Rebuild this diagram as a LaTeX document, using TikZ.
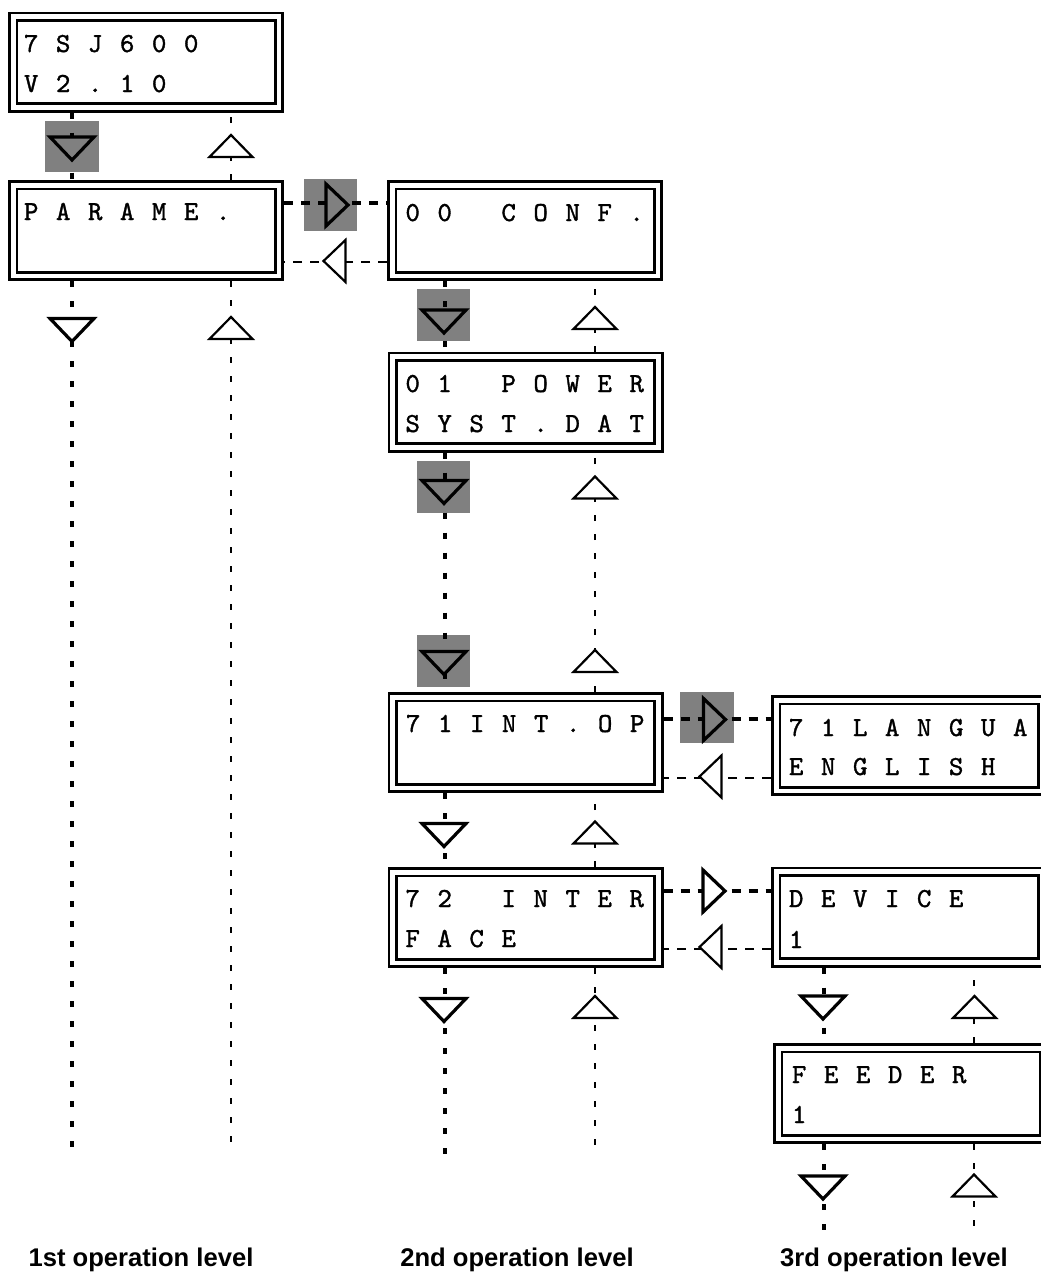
\documentclass[tikz,border=0pt]{standalone}
\usepackage{fontspec}
\newfontfamily\lcdfont[FakeBold=1.3]{lmmono10-regular.otf}
\newfontfamily\labfont{Liberation Sans}
\newcommand\lcdrow[1]{\foreach \c in {#1}{\makebox[16pt]{\c}\hspace{16pt}}}
\tikzset{
  lcdbox/.style={draw, double, double distance=4.8pt, line width=2.7pt,
    minimum width=265.8pt, minimum height=90.8pt, inner sep=0pt, outer sep=5.1pt},
  lcdtxt/.style={anchor=base west, inner sep=0pt, font=\lcdfont\fontsize{27.5}{33}\selectfont},
  lvl/.style={anchor=base, inner sep=0pt, font=\labfont\bfseries\fontsize{25.6}{30}\selectfont},
  dnline/.style={line width=3.2pt, dash pattern=on 6pt off 14pt},
  upline/.style={line width=2.2pt, dash pattern=on 6pt off 13pt},
  rtline/.style={line width=3.2pt, dash pattern=on 9pt off 8pt},
  ltline/.style={line width=2.2pt, dash pattern=on 9pt off 8pt},
  hl/.style={fill=black!50},
  pics/dntri/.style={code={\draw[line width=3.2pt, line join=miter, fill=#1] (-22,-11.5) -- (22,-11.5) -- (0,11.5) -- cycle;}},
  pics/dntri/.default=white,
  pics/uptri/.style={code={\draw[line width=2.2pt, line join=miter, fill=white] (-21.5,11) -- (21.5,11) -- (0,-11) -- cycle;}},
  pics/rttri/.style={code={\draw[line width=3.2pt, line join=miter, fill=#1] (-11,-21) -- (-11,21) -- (11,0) -- cycle;}},
  pics/rttri/.default=white,
  pics/lttri/.style={code={\draw[line width=2.2pt, line join=miter, fill=white] (11,-21) -- (11,21) -- (-11,0) -- cycle;}},
}
\begin{document}
\begin{tikzpicture}[x=1pt,y=-1pt]
\clip (0,0) rectangle (1041,1275);
\fill[white] (0,0) rectangle (1041,1275);
% highlight squares
\fill[hl] (45,121) rectangle (99,172);
\fill[hl] (304,179) rectangle (357,231);
\fill[hl] (417,289) rectangle (470,341);
\fill[hl] (417,461) rectangle (470,513);
\fill[hl] (417,635) rectangle (470,687);
\fill[hl] (680,692) rectangle (734,743);
% boxes
\node[lcdbox] (b1) at (146,62) {};
\node[lcdbox] (b2) at (146,230.5) {};
\node[lcdbox] (b3) at (525,230.5) {};
\node[lcdbox] (b4) at (525.5,402) {};
\node[lcdbox] (b5) at (525.5,742.5) {};
\node[lcdbox] (b6) at (525.5,917.5) {};
\node[lcdbox] (b7) at (909,745.5) {};
\node[lcdbox] (b8) at (909,917) {};
\node[lcdbox] (b9) at (911,1093.5) {};
% texts
\node[lcdtxt] (t1a) at (23,52) {\lcdrow{7,S,J,6,0,0}};
\node[lcdtxt] (t1b) at (23,92) {\lcdrow{V,2,.,1,0}};
\node[lcdtxt] (t2a) at (23,220) {\lcdrow{P,A,R,A,M,E,.}};
\node[lcdtxt] (t3a) at (404.5,221) {\lcdrow{0,0,,C,O,N,F,.}};
\node[lcdtxt] (t4a) at (404.5,392) {\lcdrow{0,1,,P,O,W,E,R}};
\node[lcdtxt] (t4b) at (404.5,432) {\lcdrow{S,Y,S,T,.,D,A,T}};
\node[lcdtxt] (t5a) at (405,732) {\lcdrow{7,1,I,N,T,.,O,P}};
\node[lcdtxt] (t6a) at (404.5,907) {\lcdrow{7,2,,I,N,T,E,R}};
\node[lcdtxt] (t6b) at (404.5,947) {\lcdrow{F,A,C,E}};
\node[lcdtxt] (t7a) at (788,736) {\lcdrow{7,1,L,A,N,G,U,A}};
\node[lcdtxt] (t7b) at (788,775) {\lcdrow{E,N,G,L,I,S,H}};
\node[lcdtxt] (t8a) at (788,907) {\lcdrow{D,E,V,I,C,E}};
\node[lcdtxt] (t8b) at (788,948) {\lcdrow{1}};
\node[lcdtxt] (t9a) at (791,1083) {\lcdrow{F,E,E,D,E,R}};
\node[lcdtxt] (t9b) at (791,1123) {\lcdrow{1}};
% free ends
\coordinate (e1d) at (72,1150);
\coordinate (e1u) at (231,1150);
\coordinate (e2d) at (445,1155);
\coordinate (e2u) at (595,1147);
\coordinate (e3d) at (824,1230);
\coordinate (e3u) at (974,1227);
% vertical connectors
\draw[dnline] (b1.south -| 72,0) -- (b2.north -| 72,0);
\draw[upline] (b2.north -| 231,0) -- (b1.south -| 231,0);
\draw[dnline] (b2.south -| 72,0) -- (e1d);
\draw[upline] (b2.south -| 231,0) -- (e1u);
\draw[dnline] (b3.south -| 445,0) -- (b4.north -| 445,0);
\draw[upline] (b4.north -| 595,0) -- (b3.south -| 595,0);
\draw[dnline] (b4.south -| 445,0) -- (b5.north -| 445,0);
\draw[upline] (b5.north -| 595,0) -- (b4.south -| 595,0);
\draw[dnline] (b5.south -| 445,0) -- (b6.north -| 445,0);
\draw[upline] (b6.north -| 595,0) -- (b5.south -| 595,0);
\draw[dnline] (b6.south -| 445,0) -- (e2d);
\draw[upline] (b6.south -| 595,0) -- (e2u);
\draw[dnline] (b8.south -| 824,0) -- (b9.north -| 824,0);
\draw[upline] (b9.north -| 974,0) -- (b8.south -| 974,0);
\draw[dnline] (b9.south -| 824,0) -- (e3d);
\draw[upline] (b9.south -| 974,0) -- (e3u);
% horizontal connectors
\draw[rtline] (b2.east |- 0,203) -- (b3.west |- 0,203);
\draw[ltline] (b3.west |- 0,262) -- (b2.east |- 0,262);
\draw[rtline] (b5.east |- 0,719) -- (b7.west |- 0,719);
\draw[ltline] (b7.west |- 0,778) -- (b5.east |- 0,778);
\draw[rtline] (b6.east |- 0,891) -- (b8.west |- 0,891);
\draw[ltline] (b8.west |- 0,949) -- (b6.east |- 0,949);
% triangles
\pic at (72,148.5) {dntri=black!50};
\pic at (231,146) {uptri};
\pic at (72,330) {dntri};
\pic at (231,328) {uptri};
\pic at (337,205) {rttri=black!50};
\pic at (334.5,261) {lttri};
\pic at (444,321.5) {dntri=black!50};
\pic at (595,318) {uptri};
\pic at (444,492) {dntri=black!50};
\pic at (595,487.5) {uptri};
\pic at (444,663) {dntri=black!50};
\pic at (595,661) {uptri};
\pic at (714.5,719.5) {rttri=black!50};
\pic at (710.5,776.5) {lttri};
\pic at (444,835) {dntri};
\pic at (595,832.5) {uptri};
\pic at (714,891) {rttri};
\pic at (710.5,947) {lttri};
\pic at (444,1010) {dntri};
\pic at (595,1007) {uptri};
\pic at (823,1007.5) {dntri};
\pic at (974.5,1007) {uptri};
\pic at (823,1187.5) {dntri};
\pic at (974,1185.5) {uptri};
% level labels
\node[lvl] (l1) at (141,1266) {1st operation level};
\node[lvl] (l2) at (517,1266) {2nd operation level};
\node[lvl] (l3) at (894,1266) {3rd operation level};
\end{tikzpicture}
\end{document}
